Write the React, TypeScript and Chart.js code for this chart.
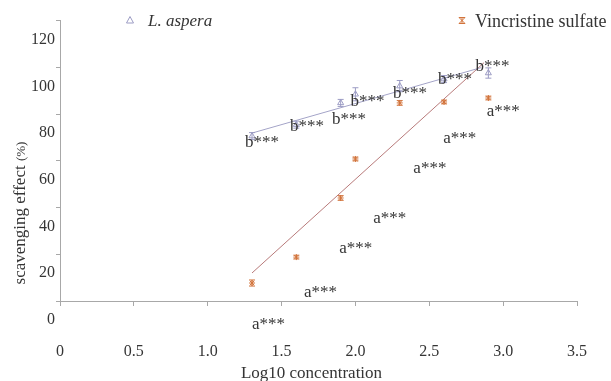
import React, { useEffect, useRef } from 'react';
import { Chart, registerables } from 'chart.js';

Chart.register(...registerables);

// ---------- data ----------
const CONCENTRATIONS = [1.3, 1.6, 1.9, 2.0, 2.3, 2.6, 2.9];
const L_ASPERA = [78.6, 83.5, 92.8, 96.5, 100.0, 103.0, 105.6];
const L_ASPERA_ERR = [1.5, 1.5, 1.5, 2.8, 2.4, 1.5, 2.2];
const VINCRISTINE = [15.7, 26.8, 52.1, 68.8, 92.8, 93.2, 94.9];
const VINCRISTINE_ERR = [1.3, 0.8, 1.0, 0.8, 1.0, 0.8, 0.8];

const L_ASPERA_TREND_X = [1.3, 2.85];
const L_ASPERA_TREND_Y = [79.9, 107.9];
const VINCRISTINE_TREND_X = [1.3, 2.87];
const VINCRISTINE_TREND_Y = [20.0, 110.0];

const L_ASPERA_LABEL = 'b***';
const L_ASPERA_LABEL_X = [1.253, 1.557, 1.842, 1.967, 2.255, 2.559, 2.813];
const L_ASPERA_LABEL_Y = [73.9, 80.8, 83.8, 91.5, 95.1, 100.9, 106.5];
const VINCRISTINE_LABEL = 'a***';
const VINCRISTINE_LABEL_X = [1.3, 1.652, 1.891, 2.121, 2.392, 2.595, 2.889];
const VINCRISTINE_LABEL_Y = [-4.0, 9.9, 28.6, 41.4, 62.8, 75.6, 87.0];

const X_TICKS = [0, 0.5, 1, 1.5, 2, 2.5, 3, 3.5];
const X_TICK_LABELS = ['0', '0.5', '1.0', '1.5', '2.0', '2.5', '3.0', '3.5'];
const Y_TICKS = [0, 20, 40, 60, 80, 100, 120];
const Y_TICK_LABELS = ['0', '20', '40', '60', '80', '100', '120'];
// the drawn axis frame sits this many units above the labelled values
const Y_AXIS_SHIFT = 8;

const SERIES_NAMES = ['L. aspera', 'Vincristine sulfate'];
const X_TITLE = 'Log10 concentration';
const Y_TITLE = 'scavenging effect ';
const Y_TITLE_UNIT = '(%)';

// ---------- styles ----------
const FONT = "'Liberation Serif', 'Times New Roman', serif";
const TEXT = '#353535';
const AXIS = '#a8a8a8';
const LA_COLOR = '#9c9cc4';
const LA_LINE = '#a4a4c8';
const VS_COLOR = '#d2743c';
const VS_LINE = '#b87a7a';

const errorBars = {
  id: 'errorBars',
  afterDatasetsDraw(chart: any) {
    const { ctx, scales } = chart;
    const sets = [
      { values: L_ASPERA, errs: L_ASPERA_ERR, color: LA_COLOR },
      { values: VINCRISTINE, errs: VINCRISTINE_ERR, color: VS_COLOR },
    ];
    ctx.save();
    ctx.lineWidth = 1;
    sets.forEach((s) => {
      ctx.strokeStyle = s.color;
      CONCENTRATIONS.forEach((x, i) => {
        const px = scales.x.getPixelForValue(x);
        const top = scales.y.getPixelForValue(s.values[i] + s.errs[i]);
        const bot = scales.y.getPixelForValue(s.values[i] - s.errs[i]);
        ctx.beginPath();
        ctx.moveTo(px, top);
        ctx.lineTo(px, bot);
        ctx.moveTo(px - 3, top);
        ctx.lineTo(px + 3, top);
        ctx.moveTo(px - 3, bot);
        ctx.lineTo(px + 3, bot);
        ctx.stroke();
      });
    });
    ctx.restore();
  },
};

const texts = {
  id: 'texts',
  afterDraw(chart: any) {
    const { ctx, scales } = chart;
    ctx.save();
    ctx.fillStyle = TEXT;
    ctx.textBaseline = 'alphabetic';

    // annotations
    ctx.font = `17px ${FONT}`;
    ctx.textAlign = 'left';
    L_ASPERA_LABEL_X.forEach((x, i) => {
      ctx.fillText(L_ASPERA_LABEL, scales.x.getPixelForValue(x), scales.y.getPixelForValue(L_ASPERA_LABEL_Y[i]));
    });
    VINCRISTINE_LABEL_X.forEach((x, i) => {
      ctx.fillText(VINCRISTINE_LABEL, scales.x.getPixelForValue(x), scales.y.getPixelForValue(VINCRISTINE_LABEL_Y[i]));
    });

    // legend
    ctx.strokeStyle = LA_COLOR;
    ctx.lineWidth = 1;
    ctx.beginPath();
    ctx.moveTo(130, 16.5);
    ctx.lineTo(133.5, 23);
    ctx.lineTo(126.5, 23);
    ctx.closePath();
    ctx.stroke();
    ctx.font = `italic 17px ${FONT}`;
    ctx.fillText(SERIES_NAMES[0], 148, 26);

    ctx.strokeStyle = VS_COLOR;
    ctx.beginPath();
    const cx = 462, cy = 20.5, r = 3;
    ctx.moveTo(cx, cy - r); ctx.lineTo(cx, cy + r);
    ctx.moveTo(cx - r, cy - r); ctx.lineTo(cx + r, cy + r);
    ctx.moveTo(cx + r, cy - r); ctx.lineTo(cx - r, cy + r);
    ctx.moveTo(cx - r, cy - r); ctx.lineTo(cx + r, cy - r);
    ctx.moveTo(cx - r, cy + r); ctx.lineTo(cx + r, cy + r);
    ctx.stroke();
    ctx.font = `18px ${FONT}`;
    ctx.fillText(SERIES_NAMES[1], 475, 26.5);

    // x title
    ctx.font = `17px ${FONT}`;
    ctx.textAlign = 'center';
    ctx.fillText(X_TITLE, 311.5, 377.5);

    // y title
    ctx.translate(25, 213);
    ctx.rotate(-Math.PI / 2);
    ctx.font = `17px ${FONT}`;
    const w1 = ctx.measureText(Y_TITLE).width;
    ctx.font = `13px ${FONT}`;
    const w2 = ctx.measureText(Y_TITLE_UNIT).width;
    const start = -(w1 + w2) / 2;
    ctx.textAlign = 'left';
    ctx.font = `17px ${FONT}`;
    ctx.fillText(Y_TITLE, start, 0);
    ctx.font = `13px ${FONT}`;
    ctx.fillText(Y_TITLE_UNIT, start + w1, 0);
    ctx.restore();
  },
};

export default function App() {
  const ref = useRef<HTMLCanvasElement | null>(null);

  useEffect(() => {
    if (!ref.current) return;
    const pts = (xs: number[], ys: number[]) => xs.map((x, i) => ({ x, y: ys[i] }));
    const chart = new Chart(ref.current, {
      type: 'scatter',
      data: {
        datasets: [
          {
            label: SERIES_NAMES[0],
            data: pts(CONCENTRATIONS, L_ASPERA),
            pointStyle: 'triangle',
            pointRadius: 3.5,
            borderColor: LA_COLOR,
            backgroundColor: 'rgba(255,255,255,0)',
            borderWidth: 1,
            showLine: false,
          },
          {
            label: SERIES_NAMES[1],
            data: pts(CONCENTRATIONS, VINCRISTINE),
            pointStyle: 'star',
            pointRadius: 3,
            borderColor: VS_COLOR,
            backgroundColor: VS_COLOR,
            borderWidth: 1,
            showLine: false,
          },
          {
            label: 'trend1',
            data: pts(L_ASPERA_TREND_X, L_ASPERA_TREND_Y),
            showLine: true,
            pointRadius: 0,
            borderColor: LA_LINE,
            borderWidth: 1,
          },
          {
            label: 'trend2',
            data: pts(VINCRISTINE_TREND_X, VINCRISTINE_TREND_Y),
            showLine: true,
            pointRadius: 0,
            borderColor: VS_LINE,
            borderWidth: 1,
          },
        ],
      },
      options: {
        animation: false,
        responsive: true,
        maintainAspectRatio: false,
        layout: { padding: { left: 0, top: 20.7, right: 34, bottom: 0 } },
        plugins: { legend: { display: false }, tooltip: { enabled: false } },
        scales: {
          x: {
            type: 'linear',
            min: X_TICKS[0],
            max: X_TICKS[X_TICKS.length - 1],
            afterBuildTicks: (s: any) => {
              s.ticks = X_TICKS.map((v) => ({ value: v }));
            },
            afterFit: (s: any) => {
              s.height = 80;
              s.paddingLeft = 0;
              s.paddingRight = 0;
            },
            grid: { drawOnChartArea: false, drawTicks: true, tickLength: 5, color: AXIS },
            border: { display: true, color: AXIS, width: 1 },
            ticks: {
              callback: (_v: any, i: number) => X_TICK_LABELS[i],
              padding: 36,
              color: TEXT,
              font: { family: FONT, size: 16 },
              maxRotation: 0,
              autoSkip: false,
            },
          },
          y: {
            type: 'linear',
            min: Y_TICKS[0] + Y_AXIS_SHIFT,
            max: Y_TICKS[Y_TICKS.length - 1] + Y_AXIS_SHIFT,
            afterBuildTicks: (s: any) => {
              s.ticks = Y_TICKS.map((v) => ({ value: v + Y_AXIS_SHIFT }));
            },
            afterFit: (s: any) => {
              s.width = 60;
              s.paddingTop = 0;
              s.paddingBottom = 0;
            },
            grid: { drawOnChartArea: false, drawTicks: true, tickLength: 4, color: AXIS },
            border: { display: true, color: AXIS, width: 1 },
            ticks: {
              callback: (_v: any, i: number) => Y_TICK_LABELS[i],
              padding: 1,
              labelOffset: 19,
              color: TEXT,
              font: { family: FONT, size: 16 },
              autoSkip: false,
            },
          },
        },
      },
      plugins: [errorBars, texts],
    });
    return () => chart.destroy();
  }, []);

  return (
    <div style={{ position: 'fixed', left: 0, top: 0, width: 611, height: 381, background: '#fff' }}>
      <canvas ref={ref} />
    </div>
  );
}
